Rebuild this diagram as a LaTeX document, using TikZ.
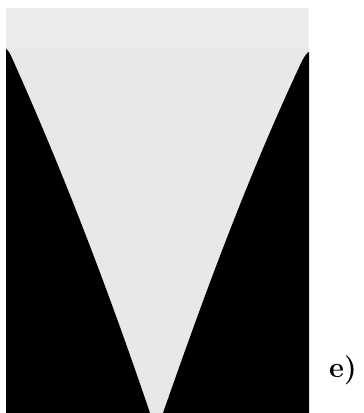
\documentclass[tikz,border=0pt]{standalone}
\definecolor{bgtop}{HTML}{ECECEC}
\definecolor{bgmain}{HTML}{E8E8E8}
\begin{document}
\begin{tikzpicture}[x=1pt,y=1pt]
\useasboundingbox (0,0) rectangle (364,413);
\fill[bgmain] (6,0) rectangle (309,405);
\fill[bgtop] (6,365) rectangle (309,405);
\fill[black] (6,0) -- (6,364) .. controls (7,364) and (10,360) .. (12,355)
  .. controls (65,237) and (110,118) .. (150,0) -- cycle;
\fill[black] (309,0) -- (309,361) .. controls (308,361) and (305,358) .. (302,352)
  .. controls (247,235) and (204,117) .. (163,0) -- cycle;
\node (lab) at (343,43) {\fontsize{29}{31}\selectfont\bfseries e)};
\end{tikzpicture}
\end{document}
